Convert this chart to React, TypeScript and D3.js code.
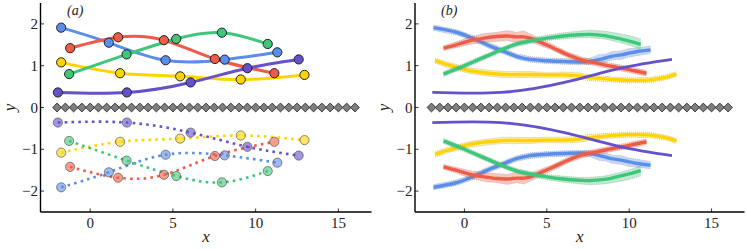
import React from 'react';
import * as d3 from 'd3';

const W = 747;
const H = 249;

const xTicks = [0, 5, 10, 15];
const xTickLabels = ['0', '5', '10', '15'];
const yTicks = [-2, -1, 0, 1, 2];
const yTickLabels = ['−2', '−1', '0', '1', '2'];

const colors = ['#5b8ee8', '#ee5b46', '#3ec67a', '#ffd400', '#6650cc'];
// draw order: blue, red, yellow, green, purple
const drawOrder = [0, 1, 3, 2, 4];

// Panel (a): marker points of each series
const blueX = [-1.75, 1.13, 4.56, 8.13, 11.31];
const blueY = [1.91, 1.55, 1.13, 1.145, 1.32];
const redX = [-1.21, 1.69, 4.46, 7.54, 11.13];
const redY = [1.42, 1.68, 1.61, 1.16, 0.82];
const greenX = [-1.27, 2.2, 5.2, 7.96, 10.73];
const greenY = [0.8, 1.27, 1.64, 1.79, 1.52];
const yellowX = [-1.75, 1.81, 5.44, 9.1, 12.95];
const yellowY = [1.08, 0.82, 0.745, 0.67, 0.78];
const purpleX = [-1.95, 2.22, 6.07, 9.5, 12.6];
const purpleY = [0.36, 0.36, 0.6, 0.94, 1.15];

const seriesAX = [blueX, redX, greenX, yellowX, purpleX];
const seriesAY = [blueY, redY, greenY, yellowY, purpleY];

// Diamonds along y = 0
const diamondX = [
  -2, -1.5, -1, -0.5, 0, 0.5, 1, 1.5, 2, 2.5, 3, 3.5, 4, 4.5, 5, 5.5, 6, 6.5, 7,
  7.5, 8, 8.5, 9, 9.5, 10, 10.5, 11, 11.5, 12, 12.5, 13, 13.5, 14, 14.5, 15, 15.5, 16,
];

// Panel (b): mean curves with band half-widths (upper / lower)
const bBlueX = [-1.88, -0.5, 0.35, 1.5, 2.4, 3.2, 4.0, 5.0, 6.0, 7.0, 7.6, 8.2, 8.6, 9.0, 9.5, 10.0, 10.5, 11.3];
const bBlueY = [1.91, 1.8, 1.68, 1.48, 1.34, 1.22, 1.15, 1.12, 1.1, 1.09, 1.1, 1.15, 1.19, 1.23, 1.26, 1.3, 1.34, 1.38];
const bBlueHi = [0.065, 0.065, 0.07, 0.07, 0.07, 0.065, 0.07, 0.065, 0.07, 0.07, 0.08, 0.12, 0.09, 0.11, 0.1, 0.11, 0.09, 0.09];
const bBlueLo = [0.065, 0.065, 0.065, 0.07, 0.065, 0.07, 0.065, 0.07, 0.065, 0.07, 0.07, 0.08, 0.1, 0.09, 0.11, 0.09, 0.1, 0.09];

const bRedX = [-1.27, -0.5, 0.35, 1.2, 1.96, 2.6, 3.17, 3.6, 4.0, 4.6, 5.2, 6.4, 7.2, 8.0, 9.0, 9.6, 10.3, 11.05];
const bRedY = [1.42, 1.5, 1.6, 1.66, 1.7, 1.71, 1.69, 1.69, 1.66, 1.56, 1.46, 1.24, 1.13, 1.06, 0.98, 0.94, 0.88, 0.82];
const bRedHi = [0.06, 0.07, 0.09, 0.11, 0.1, 0.13, 0.11, 0.14, 0.1, 0.09, 0.08, 0.07, 0.07, 0.07, 0.07, 0.07, 0.07, 0.07];
const bRedLo = [0.06, 0.07, 0.09, 0.1, 0.12, 0.11, 0.14, 0.1, 0.09, 0.08, 0.07, 0.07, 0.08, 0.07, 0.07, 0.07, 0.07, 0.07];

const bGreenX = [-1.27, 0, 1, 2.36, 3.2, 4.0, 5.0, 6.0, 7.0, 7.6, 8.5, 9.24, 10.0, 10.7];
const bGreenY = [0.8, 1.0, 1.17, 1.4, 1.52, 1.59, 1.66, 1.71, 1.74, 1.75, 1.72, 1.66, 1.59, 1.51];
const bGreenHi = [0.06, 0.06, 0.06, 0.06, 0.06, 0.06, 0.07, 0.08, 0.09, 0.1, 0.11, 0.12, 0.13, 0.13];
const bGreenLo = [0.06, 0.06, 0.06, 0.06, 0.06, 0.06, 0.06, 0.07, 0.07, 0.08, 0.08, 0.09, 0.1, 0.11];

const bYellowX = [-1.78, -1, 0.35, 1.5, 2.4, 4.0, 5.0, 6.0, 6.9, 7.4, 8.2, 9.0, 10.0, 11.25, 12.2, 12.87];
const bYellowY = [1.12, 1.02, 0.88, 0.82, 0.79, 0.79, 0.78, 0.78, 0.76, 0.73, 0.7, 0.67, 0.65, 0.66, 0.72, 0.8];
const bYellowHi = [0.06, 0.06, 0.07, 0.07, 0.07, 0.07, 0.06, 0.07, 0.08, 0.07, 0.06, 0.06, 0.06, 0.06, 0.06, 0.06];
const bYellowLo = [0.06, 0.07, 0.07, 0.07, 0.08, 0.07, 0.07, 0.07, 0.07, 0.08, 0.07, 0.06, 0.06, 0.06, 0.06, 0.06];

const bSeriesX = [bBlueX, bRedX, bGreenX, bYellowX];
const bSeriesY = [bBlueY, bRedY, bGreenY, bYellowY];
const bSeriesHi = [bBlueHi, bRedHi, bGreenHi, bYellowHi];
const bSeriesLo = [bBlueLo, bRedLo, bGreenLo, bYellowLo];

const FONT = "'Liberation Serif', serif";

const yScale = d3.scaleLinear().domain([-2.5, 2.5]).range([212, 3]);

type Pt = [number, number];

function Axes({ x, label, labelX }: { x: d3.ScaleLinear<number, number>; label: string; labelX: number }) {
  const [x0, x1] = x.range();
  const yb = yScale(-2.5);
  const yt = yScale(2.5);
  return (
    <g>
      <line x1={x0} x2={x0} y1={yt} y2={yb} stroke="#000" strokeWidth={1.4} />
      <line x1={x0} x2={x1} y1={yb} y2={yb} stroke="#000" strokeWidth={1.4} />
      {xTicks.map((t, i) => (
        <g key={'xt' + i}>
          <line x1={x(t)} x2={x(t)} y1={yb} y2={yb - 3.5} stroke="#000" strokeWidth={0.8} />
          <text x={x(t)} y={yb + 15.5} textAnchor="middle" fontFamily={FONT} fontSize={15} fill="#222">
            {xTickLabels[i]}
          </text>
        </g>
      ))}
      {yTicks.map((t, i) => (
        <g key={'yt' + i}>
          <line x1={x0} x2={x0 + 3.5} y1={yScale(t)} y2={yScale(t)} stroke="#000" strokeWidth={0.8} />
          <text x={x0 - 2.5} y={yScale(t) + 5} textAnchor="end" fontFamily={FONT} fontSize={15} fill="#222">
            {yTickLabels[i]}
          </text>
        </g>
      ))}
      <text x={(x0 + x1) / 2} y={242} textAnchor="middle" fontFamily={FONT} fontStyle="italic" fontSize={17} fill="#222">
        x
      </text>
      <text
        transform={`translate(${x0 - 26},${yScale(0)}) rotate(-90)`}
        textAnchor="middle"
        fontFamily={FONT}
        fontStyle="italic"
        fontSize={17}
        fill="#222"
      >
        y
      </text>
      <text x={labelX} y={15} fontFamily={FONT} fontStyle="italic" fontSize={14} fill="#222">
        {label}
      </text>
    </g>
  );
}

function Diamonds({ x }: { x: d3.ScaleLinear<number, number> }) {
  const s = 4.4;
  return (
    <g>
      {diamondX.map((d, i) => {
        const cx = x(d);
        const cy = yScale(0);
        return (
          <path
            key={'dm' + i}
            d={`M${cx},${cy - s}L${cx + s},${cy}L${cx},${cy + s}L${cx - s},${cy}Z`}
            fill="#7f7f7f"
            stroke="#2a2a2a"
            strokeWidth={0.9}
          />
        );
      })}
    </g>
  );
}

function PanelA() {
  const x = d3.scaleLinear().domain([-3, 17]).range([40.5, 371.5]);
  const line = d3
    .line<Pt>()
    .x((d) => x(d[0]))
    .y((d) => yScale(d[1]))
    .curve(d3.curveNatural);
  return (
    <g>
      {drawOrder.map((k) => {
        const pts: Pt[] = seriesAX[k].map((v, i) => [v, seriesAY[k][i]]);
        const neg: Pt[] = seriesAX[k].map((v, i) => [v, -seriesAY[k][i]]);
        return (
          <g key={'la' + k}>
            <path d={line(pts) || ''} fill="none" stroke={colors[k]} strokeWidth={3} strokeLinecap="round" />
            <path d={line(neg) || ''} fill="none" stroke={colors[k]} strokeWidth={2.6} strokeDasharray="2.6,4.2" />
          </g>
        );
      })}
      {drawOrder.map((k) => (
        <g key={'ma' + k}>
          {seriesAX[k].map((v, i) => (
            <g key={i}>
              <circle cx={x(v)} cy={yScale(seriesAY[k][i])} r={4.6} fill={colors[k]} stroke="#222" strokeWidth={1} />
              <circle
                cx={x(v)}
                cy={yScale(-seriesAY[k][i])}
                r={4.6}
                fill={colors[k]}
                fillOpacity={0.6}
                stroke="#444"
                strokeOpacity={0.6}
                strokeWidth={1}
              />
            </g>
          ))}
        </g>
      ))}
      <Diamonds x={x} />
      <Axes x={x} label="(a)" labelX={67} />
    </g>
  );
}

function PanelB() {
  const x = d3.scaleLinear().domain([-3, 17]).range([415, 744.5]);
  const line = d3
    .line<Pt>()
    .x((d) => x(d[0]))
    .y((d) => yScale(d[1]))
    .curve(d3.curveCatmullRom);
  const lineN = d3
    .line<Pt>()
    .x((d) => x(d[0]))
    .y((d) => yScale(d[1]))
    .curve(d3.curveNatural);
  type B = [number, number, number];
  const area = d3
    .area<B>()
    .x((d) => x(d[0]))
    .y0((d) => yScale(d[1]))
    .y1((d) => yScale(d[2]))
    .curve(d3.curveLinear);
  const edgeLine = d3
    .line<Pt>()
    .x((d) => x(d[0]))
    .y((d) => yScale(d[1]))
    .curve(d3.curveLinear);

  return (
    <g>
      {drawOrder.map((k) => {
        if (k === 4) {
          const pts: Pt[] = purpleX.map((v, i) => [v, purpleY[i]]);
          const neg: Pt[] = purpleX.map((v, i) => [v, -purpleY[i]]);
          return (
            <g key={'pb' + k}>
              <path d={lineN(pts) || ''} fill="none" stroke={colors[4]} strokeWidth={2.8} />
              <path d={lineN(neg) || ''} fill="none" stroke={colors[4]} strokeWidth={2.8} />
            </g>
          );
        }
        const xs = bSeriesX[k];
        const ys = bSeriesY[k];
        const hi = bSeriesHi[k];
        const lo = bSeriesLo[k];
        return (
          <g key={'pb' + k}>
            {[1, -1].map((sgn) => {
              const band: B[] = xs.map((v, i) =>
                sgn > 0 ? [v, ys[i] - lo[i], ys[i] + hi[i]] : [v, -ys[i] - hi[i], -ys[i] + lo[i]]
              );
              const upper: Pt[] = band.map((b) => [b[0], b[2]]);
              const lower: Pt[] = band.map((b) => [b[0], b[1]]);
              const mean: Pt[] = xs.map((v, i) => [v, sgn * ys[i]]);
              return (
                <g key={sgn}>
                  <path d={area(band) || ''} fill={colors[k]} fillOpacity={0.35} stroke="none" />
                  <path d={edgeLine(upper) || ''} fill="none" stroke="#555" strokeOpacity={0.5} strokeWidth={0.6} strokeDasharray="1,1" />
                  <path d={edgeLine(lower) || ''} fill="none" stroke="#555" strokeOpacity={0.5} strokeWidth={0.6} strokeDasharray="1,1" />
                  <path d={line(mean) || ''} fill="none" stroke={colors[k]} strokeWidth={3.4} />
                </g>
              );
            })}
          </g>
        );
      })}
      <Diamonds x={x} />
      <Axes x={x} label="(b)" labelX={441} />
    </g>
  );
}

export default function App() {
  return (
    <svg width={W} height={H} viewBox={`0 0 ${W} ${H}`} style={{ position: 'absolute', left: 0, top: 0, background: '#fff' }}>
      <rect width={W} height={H} fill="#fff" />
      <PanelA />
      <PanelB />
    </svg>
  );
}
